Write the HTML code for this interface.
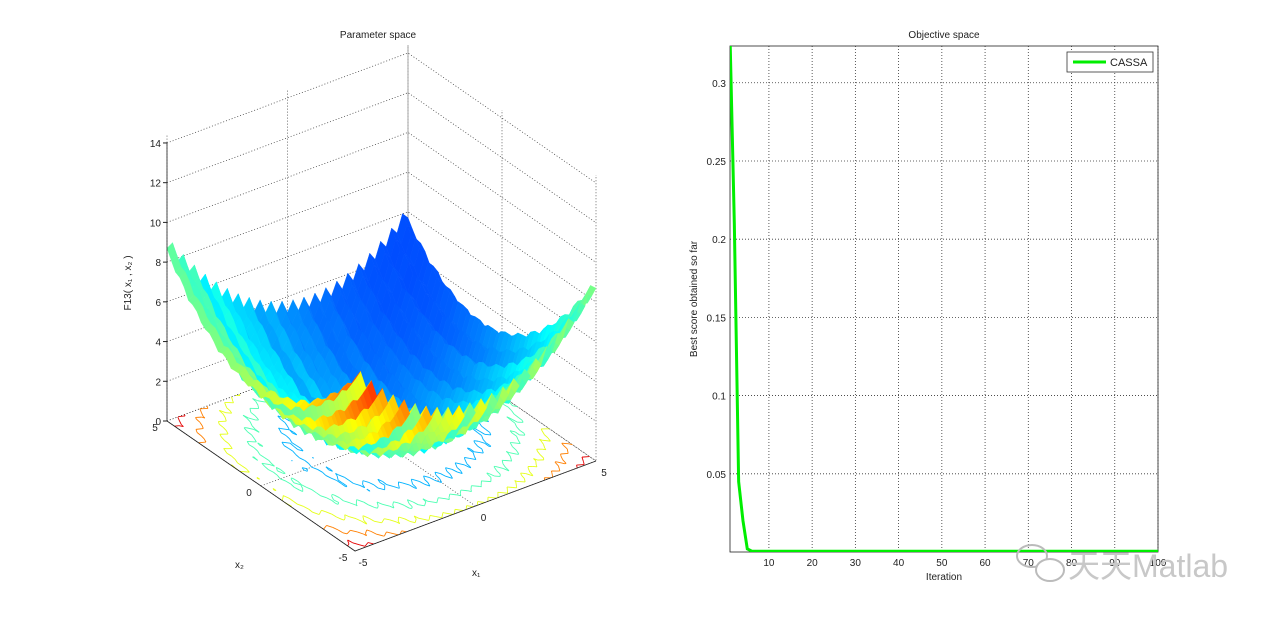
<!DOCTYPE html>
<html><head><meta charset="utf-8"><style>
body{margin:0;background:#fff;}
svg{display:block;font-family:"Liberation Sans",Arial,sans-serif;}
</style></head><body>
<svg id="fig" width="1280" height="621" viewBox="0 0 1280 621">
<rect width="1280" height="621" fill="#fff"/>
<g id="left"></g>
<g id="right"></g>
<g>
<ellipse cx="1032" cy="556" rx="15" ry="11" fill="none" stroke="#bbb" stroke-width="2"/>
<ellipse cx="1050" cy="570" rx="14" ry="11" fill="#fff" stroke="#bbb" stroke-width="2"/>
<text x="1068" y="577" font-size="32" fill="#c8c8c8" font-family="Liberation Sans, Noto Sans CJK SC, sans-serif">天天Matlab</text>
</g>
</svg>
<script>
// ---------- Objective space data ----------
const iterations = Array.from({length:100},(_,i)=>i+1);
const bestScores = [0.33,0.21,0.045,0.02,0.002,0.0006].concat(Array(94).fill(0.0005));
const xTicks = [10,20,30,40,50,60,70,80,90,100];
const yTicks = [0.05,0.1,0.15,0.2,0.25,0.3];
const yTickLabels = ["0.05","0.1","0.15","0.2","0.25","0.3"];
const seriesName = "CASSA";

// ---------- Parameter space axis ticks ----------
const zTicks = [0,2,4,6,8,10,12,14];
const x1Ticks = [-5,0,5];
const x2Ticks = [-5,0,5];

const NS="http://www.w3.org/2000/svg";
function mk(tag,attrs,parent,name,inter){
  const e=document.createElementNS(NS,tag);
  for(const k in attrs)e.setAttribute(k,attrs[k]);
  
  
  parent.appendChild(e);return e;
}
// ---------- Right plot ----------
const R=document.getElementById('right');
const L0=730,R0=1158,T0=46,B0=552;
const xs=v=>L0+(v-1)/99*(R0-L0);
const ys=v=>B0-v/0.3235*(B0-T0);
mk('rect',{x:L0,y:T0,width:R0-L0,height:B0-T0,fill:'#fff',stroke:'none'},R,'plot-area');
xTicks.forEach(t=>{
  const x=xs(t);
  mk('line',{x1:x,y1:T0,x2:x,y2:B0,stroke:'#333','stroke-width':0.8,'stroke-dasharray':'1,2'},R,'x-gridline');
  const tx=mk('text',{x:x,y:B0+14,'font-size':10,'text-anchor':'middle',fill:'#222'},R,'x-tick-label');tx.textContent=t;
});
yTicks.forEach((t,i)=>{
  const y=ys(t);
  mk('line',{x1:L0,y1:y,x2:R0,y2:y,stroke:'#333','stroke-width':0.8,'stroke-dasharray':'1,2'},R,'y-gridline');
  const tx=mk('text',{x:L0-4,y:y+4,'font-size':10,'text-anchor':'end',fill:'#222'},R,'y-tick-label');tx.textContent=yTickLabels[i];
});
mk('rect',{x:L0,y:T0,width:R0-L0,height:B0-T0,fill:'none',stroke:'#222','stroke-width':0.8},R,'axes-box');
const cp=document.createElementNS(NS,'clipPath');cp.id='rc';
const cr=document.createElementNS(NS,'rect');cr.setAttribute('x',L0);cr.setAttribute('y',T0);cr.setAttribute('width',R0-L0);cr.setAttribute('height',B0-T0);cp.appendChild(cr);R.appendChild(cp);
mk('polyline',{points:iterations.map((it,i)=>xs(it)+','+ys(bestScores[i])).join(' '),fill:'none',stroke:'#00ee00','stroke-width':3,'clip-path':'url(#rc)'},R,'cassa-line');
let t=mk('text',{x:944,y:38,'font-size':10,'text-anchor':'middle',fill:'#222'},R,'chart-title');t.textContent='Objective space';
t=mk('text',{x:944,y:580,'font-size':10,'text-anchor':'middle',fill:'#222'},R,'x-axis-title');t.textContent='Iteration';
t=mk('text',{x:0,y:0,'font-size':10,'text-anchor':'middle',fill:'#222',transform:'translate(697,299) rotate(-90)'},R,'y-axis-title');t.textContent='Best score obtained so far';
const lg=mk('g',{},R,'legend',true);
mk('rect',{x:1067,y:52,width:86,height:20,fill:'#fff',stroke:'#333','stroke-width':0.8},lg,'legend-box');
mk('line',{x1:1073,y1:62,x2:1106,y2:62,stroke:'#00ee00','stroke-width':3},lg,'legend-swatch');
t=mk('text',{x:1110,y:66,'font-size':11,fill:'#222'},lg,'legend-label');t.textContent=seriesName;

// ---------- Left plot: 3D ----------
const G=document.getElementById('left');
const Bx=355,By=551,sz=19.86;
function P(x1,x2,z){return [Bx+(x1+5)/10*241+(x2+5)/10*(-188), By+(x1+5)/10*(-90)+(x2+5)/10*(-130)-z*sz];}
function jet(v){v=Math.max(0,Math.min(1,v));
  const r=Math.max(0,Math.min(1,1.5-Math.abs(4*v-3))),g=Math.max(0,Math.min(1,1.5-Math.abs(4*v-2))),b=Math.max(0,Math.min(1,1.5-Math.abs(4*v-1)));
  return `rgb(${r*255|0},${g*255|0},${b*255|0})`;}
const zTop=14.4;
const pt=a=>a[0].toFixed(1)+','+a[1].toFixed(1);
zTicks.forEach(z=>{
  mk('polyline',{points:[P(-5,5,z),P(5,5,z),P(5,-5,z)].map(pt).join(' '),fill:'none',stroke:'#333','stroke-width':0.7,'stroke-dasharray':'1,2'},G,'z-gridline');
  const a=P(-5,5,z);
  mk('line',{x1:a[0],y1:a[1],x2:a[0]-4,y2:a[1],stroke:'#222'},G,'z-tick');
  const tx=mk('text',{x:a[0]-6,y:a[1]+4,'font-size':10,'text-anchor':'end',fill:'#222'},G,'z-tick-label');tx.textContent=z;
});
x1Ticks.forEach(v=>{
  mk('polyline',{points:[P(v,-5,0),P(v,5,0),P(v,5,zTop)].map(pt).join(' '),fill:'none',stroke:'#333','stroke-width':0.7,'stroke-dasharray':'1,2'},G,'x1-gridline');
  const a=P(v,-5,0);
  const tx=mk('text',{x:a[0]+8,y:a[1]+15,'font-size':10,'text-anchor':'middle',fill:'#222'},G,'x1-tick-label');tx.textContent=v;
});
x2Ticks.forEach(v=>{
  mk('polyline',{points:[P(-5,v,0),P(5,v,0),P(5,v,zTop)].map(pt).join(' '),fill:'none',stroke:'#333','stroke-width':0.7,'stroke-dasharray':'1,2'},G,'x2-gridline');
  const a=P(-5,v,0);
  const tx=mk('text',{x:a[0]-12,y:a[1]+10,'font-size':10,'text-anchor':'middle',fill:'#222'},G,'x2-tick-label');tx.textContent=v;
});
function zf(x1,x2){return 0.16*(x1*x1+x2*x2)-0.03*(x1+5)*(x2+5)+0.6*Math.abs(Math.sin(2.2*Math.PI*x1))+0.3*Math.abs(Math.sin(1.3*Math.PI*x2));}
function cf(x1,x2,z){const f=1-(x1+x2+10)/20;return 0.12+0.35*f+0.3*Math.abs(Math.sin(0.9*Math.PI*x1+0.5))*f*f+0.015*z;}
const N=44,h=10/N;
const levels=[1.5,3,4.5,6,7.5];
const cont=mk('g',{fill:'none','stroke-width':0.9},G,'floor-contours');
for(let i=0;i<N;i++)for(let j=0;j<N;j++){
  const x=-5+i*h,y=-5+j*h;
  const c=[[x,y],[x+h,y],[x+h,y+h],[x,y+h]].map(p=>[p[0],p[1],zf(p[0],p[1])]);
  levels.forEach(L=>{
    const pts=[];
    for(let k=0;k<4;k++){const a=c[k],b=c[(k+1)%4];
      if((a[2]-L)*(b[2]-L)<0){const f=(L-a[2])/(b[2]-a[2]);pts.push(P(a[0]+f*(b[0]-a[0]),a[1]+f*(b[1]-a[1]),0));}}
    if(pts.length>=2)mk('line',{x1:pts[0][0],y1:pts[0][1],x2:pts[1][0],y2:pts[1][1],stroke:jet(0.15+L/10)},cont,'contour-segment');
  });
}
const surf=mk('g',{},G,'surface');
const cells=[];
for(let i=0;i<N;i++)for(let j=0;j<N;j++){
  const x=-5+i*h,y=-5+j*h;cells.push([x,y,x+y]);}
cells.sort((a,b)=>b[2]-a[2]);
cells.forEach(([x,y])=>{
  const q=[[x,y],[x+h,y],[x+h,y+h],[x,y+h]];
  const zs=q.map(p=>zf(p[0],p[1]));
  const zm=(zs[0]+zs[1]+zs[2]+zs[3])/4;
  const col=jet(cf(x+h/2,y+h/2,zm));
  mk('polygon',{points:q.map((p,k)=>pt(P(p[0],p[1],zs[k]+0.4))).join(' '),fill:col,stroke:col,'stroke-width':0.4},surf,'surface-patch');
});
mk('polyline',{points:[P(-5,5,0),P(-5,-5,0),P(5,-5,0)].map(pt).join(' '),fill:'none',stroke:'#222','stroke-width':0.8},G,'floor-axes');
mk('line',{x1:P(-5,5,0)[0],y1:P(-5,5,0)[1],x2:P(-5,5,14)[0],y2:P(-5,5,14)[1],stroke:'#222','stroke-width':0.8},G,'z-axis');
t=mk('text',{x:378,y:38,'font-size':10,'text-anchor':'middle',fill:'#222'},G,'chart-title');t.textContent='Parameter space';
t=mk('text',{x:0,y:0,'font-size':10,'text-anchor':'middle',fill:'#222',transform:'translate(131,283) rotate(-90)'},G,'z-axis-title');t.textContent='F13( x₁ , x₂ )';
t=mk('text',{x:235,y:568,'font-size':10,fill:'#222'},G,'x2-axis-title');t.textContent='x₂';
t=mk('text',{x:472,y:576,'font-size':10,fill:'#222'},G,'x1-axis-title');t.textContent='x₁';
</script>
</body></html>
